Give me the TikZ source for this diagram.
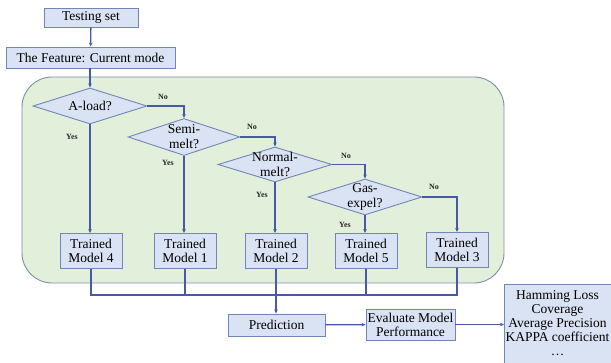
\documentclass[tikz,border=0pt]{standalone}
\usepackage{fontspec}
\setmainfont{Liberation Serif}
\usetikzlibrary{shapes.geometric,arrows.meta}
\definecolor{boxfill}{HTML}{DAE3F3}
\definecolor{boxline}{HTML}{7385B5}
\definecolor{flow}{HTML}{4759A8}
\definecolor{greenfill}{HTML}{E2EFDA}
\definecolor{greenline}{HTML}{7F8FA8}
\tikzset{
  x=1pt,y=-1pt,
  every node/.style={font=\rmfamily\fontsize{13.5}{14}\selectfont},
  box/.style={draw=boxline,fill=boxfill,line width=0.9pt,inner sep=0pt,align=center},
  dia/.style={draw=boxline,fill=boxfill,line width=0.9pt,diamond,inner sep=0pt,minimum width=114pt,minimum height=36pt},
  dtext/.style={align=center,font=\rmfamily\fontsize{13.5}{15}\selectfont},
  flowline/.style={draw=flow,line width=1.3pt},
  arr/.style={flowline,-{Stealth[length=4pt,width=3.5pt]}},
  yn/.style={font=\rmfamily\fontsize{8}{9}\selectfont\bfseries,text=black!85},
}
\begin{document}
\begin{tikzpicture}
\useasboundingbox (0,0) rectangle (611,363);
\fill[white] (0,0) rectangle (611,363);
\draw[fill=greenfill,draw=greenline,line width=0.9pt,rounded corners=30pt] (22,77) rectangle (504,283);

\node[box,minimum width=94pt,minimum height=19pt] (test) at (91,17.5) {Testing set};
\node[box,minimum width=169pt,minimum height=21pt] (feat) at (90.5,57.5) {The Feature: Current mode};

\node[dia,label={[dtext]center:A-load?}] (aload) at (90,106) {};
\node[dia,minimum width=112pt,minimum height=37pt,label={[dtext]center:Semi-\\melt?}] (semi) at (184,137) {};
\node[dia,minimum height=35pt,label={[dtext]center:Normal-\\melt?}] (norm) at (275,164.5) {};
\node[dia,label={[dtext]center:Gas-\\expel?}] (gas) at (365,197) {};

\node[box,minimum width=62pt,minimum height=35pt] (m4) at (91,251) {Trained\\Model 4};
\node[box,minimum width=62pt,minimum height=35pt] (m1) at (185,251) {Trained\\Model 1};
\node[box,minimum width=62pt,minimum height=35pt] (m2) at (276,251) {Trained\\Model 2};
\node[box,minimum width=62pt,minimum height=35pt] (m5) at (366,251) {Trained\\Model 5};
\node[box,minimum width=62pt,minimum height=35pt] (m3) at (457,250) {Trained\\Model 3};

\node[box,minimum width=97pt,minimum height=22pt] (pred) at (276.5,325) {Prediction};
\node[box,minimum width=89pt,minimum height=31pt] (eval) at (410.5,324.5) {Evaluate Model\\Performance};
\node[box,minimum width=107pt,minimum height=80pt,anchor=north west] (metr) at (504,284) {};
\node[align=center,anchor=north,inner sep=0pt] (mtext) at (557.5,290) {Hamming Loss\\Coverage\\Average Precision\\KAPPA coefficient\\\ldots};

\coordinate (bus) at (0,295);

\draw[arr] (test) -- (feat);
\draw[arr] (feat.south -| aload.north) -- (aload.north);
\draw[arr] (aload.east) -| (semi.north);
\draw[arr] (semi.east) -| (norm.north);
\draw[arr] (norm.east) -| (gas.north);
\draw[arr] (gas.east) -| (m3.north);
\draw[arr] (aload.south) -- (aload.south |- m4.north);
\draw[arr] (semi.south) -- (semi.south |- m1.north);
\draw[arr] (norm.south) -- (norm.south |- m2.north);
\draw[arr] (gas.south) -- (gas.south |- m5.north);

\draw[flowline] (m4.south) |- (m3.south |- bus) -- (m3.south);
\draw[flowline] (m1.south) -- (m1.south |- bus);
\draw[flowline] (m5.south) -- (m5.south |- bus);
\draw[arr] (m2.south) -- (pred.north -| m2.south);
\draw[arr] (pred) -- (eval);
\draw[arr] (eval) -- (metr.west |- eval);

\node[yn] (no1) at (163,97) {No};
\node[yn] (no2) at (252,127) {No};
\node[yn] (no3) at (346,156) {No};
\node[yn] (no4) at (434,187) {No};
\node[yn] (yes1) at (72,137) {Yes};
\node[yn] (yes2) at (168,163) {Yes};
\node[yn] (yes3) at (262,195) {Yes};
\node[yn] (yes4) at (345,225) {Yes};
\end{tikzpicture}
\end{document}
